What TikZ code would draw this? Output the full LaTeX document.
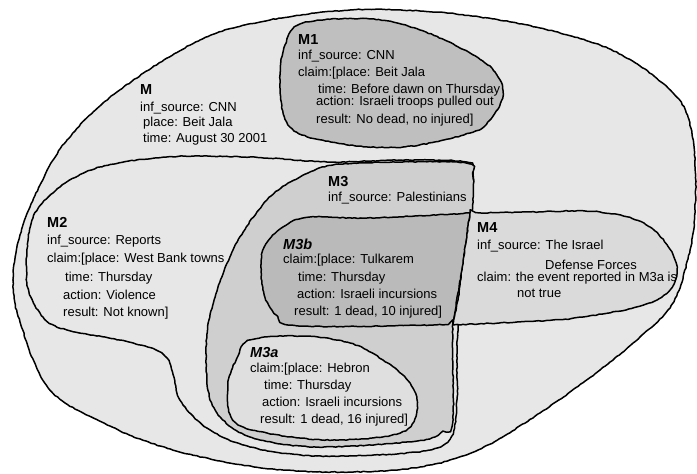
\documentclass[tikz,border=0pt]{standalone}
\usepackage{fontspec}
\setmainfont{Liberation Sans}
\usepackage{tikz}
\usetikzlibrary{decorations.pathmorphing}
\usepackage{xcolor}

\definecolor{bgM}{gray}{0.905}
\definecolor{bgMone}{gray}{0.75}
\definecolor{bgMthree}{gray}{0.81}
\definecolor{bgMthreeb}{gray}{0.73}
\definecolor{bgMthreea}{gray}{0.875}
\definecolor{bgMfour}{gray}{0.855}

\begin{document}
\begin{tikzpicture}[
    x=1pt, y=-1pt,
    region/.style={draw, line width=1.5pt, line join=round,
        decoration={random steps, segment length=3pt, amplitude=0.45pt}, decorate},
    txt/.style={align=left, inner sep=0pt, anchor=north west,
        font=\fontsize{13}{17}\selectfont}
]
\pgfmathsetseed{11}
\useasboundingbox (0,0) rectangle (697,474);

% outer message M
\path[region, fill=bgM] plot[smooth cycle, tension=0.6] coordinates {
  (350,10) (420,11) (480,17) (540,28) (600,45) (640,66) (673,93) (688,117)
  (695,160) (695,210) (690,250) (673,303) (640,337) (600,370) (540,413)
  (478,450) (420,467) (350,472) (283,470) (220,461) (160,446) (110,426)
  (50,390) (20,322) (13,280) (20,235) (40,185) (67,140) (117,92) (200,40) (270,20)};

% M1
\path[region, fill=bgMone] plot[smooth cycle, tension=0.6] coordinates {
  (303,23) (370,19) (420,30) (470,53) (495,72) (503,95) (490,120) (470,133)
  (403,147) (337,143) (290,127) (280,83) (285,45)};

% M2
\path[region, fill=bgM] plot[smooth cycle, tension=0.55] coordinates {
  (100,167) (60,187) (32,220) (27,283) (43,317) (67,330) (133,343) (167,358)
  (180,400) (207,428) (250,447) (317,456) (417,452) (450,439) (457,400)
  (457,345) (462,280) (470,215) (473,175) (466,162) (400,160) (330,162)
  (250,157) (167,157)};

% M3
\path[region, fill=bgMthree] plot[smooth cycle, tension=0.55] coordinates {
  (333,165) (400,162) (466,163) (473,175) (472,212) (462,270) (453,323)
  (453,420) (443,432) (417,441) (317,447) (250,437) (217,413) (207,380)
  (209,320) (233,250) (267,200) (300,177)};

% M3b
\path[region, fill=bgMthreeb] plot[smooth, tension=0.6] coordinates {
  (453,323) (433,325) (300,326) (276,315) (263,290) (263,250) (283,227)
  (310,217) (367,218) (470,213)} -- (462,270) -- cycle;

% M3a
\path[region, fill=bgMthreea] plot[smooth cycle, tension=0.6] coordinates {
  (250,340) (300,336) (350,343) (383,360) (410,383) (417,410) (400,433)
  (333,440) (267,433) (233,420) (228,385) (237,358)};

% M4
\path[region, fill=bgMfour] plot[smooth, tension=0.6] coordinates {
  (470,213) (530,212) (600,212) (650,227) (677,267) (657,300) (583,317)
  (517,322) (453,325)} -- (458,300) -- (462,270) -- cycle;

% message contents
\node[txt] (txtM) at (140,84) {{\fontsize{14.5}{17}\bfseries M}\\
  inf\_source: CNN\\[-2pt]
  \hspace*{3pt}place: Beit Jala\\[-1pt]
  \hspace*{3pt}time: August 30 2001};

\node[txt] (txtMone) at (298,34) {{\fontsize{14.5}{17}\bfseries M1}\\[-2pt]
  inf\_source: CNN\\
  claim:[place: Beit Jala\\
  \hspace*{20pt}time: Before dawn on Thursday\\[-5pt]
  \hspace*{18pt}action: Israeli troops pulled out\\[1pt]
  \hspace*{18pt}result: No dead, no injured]};

\node[txt] (txtMtwo) at (47,217) {{\fontsize{14.5}{17}\bfseries M2}\\
  inf\_source: Reports\\[1pt]
  claim:[place: West Bank towns\\[2pt]
  \hspace*{18pt}time: Thursday\\[1pt]
  \hspace*{16pt}action: Violence\\
  \hspace*{16pt}result: Not known]};

\node[txt] (txtMthree) at (328,176) {{\fontsize{14.5}{17}\bfseries M3}\\[-2pt]
  inf\_source: Palestinians};

\node[txt] (txtMthreeb) at (283,239) {{\fontsize{14.5}{17}\bfseries\itshape M3b}\\[-3pt]
  claim:[place: Tulkarem\\[1pt]
  \hspace*{15pt}time: Thursday\\
  \hspace*{14pt}action: Israeli incursions\\
  \hspace*{11pt}result: 1 dead, 10 injured]};

\node[txt] (txtMfour) at (477,222) {{\fontsize{14.5}{17}\bfseries M4}\\
  inf\_source: The Israel\\[3pt]
  \hspace*{68pt}Defense Forces\\[-5pt]
  claim: the event reported in M3a is\\[-1pt]
  \hspace*{40pt}not true};

\node[txt] (txtMthreea) at (250,347) {{\fontsize{14.5}{17}\bfseries\itshape M3a}\\[-2pt]
  claim:[place: Hebron\\
  \hspace*{14pt}time: Thursday\\
  \hspace*{12pt}action: Israeli incursions\\
  \hspace*{10pt}result: 1 dead, 16 injured]};
\end{tikzpicture}
\end{document}
